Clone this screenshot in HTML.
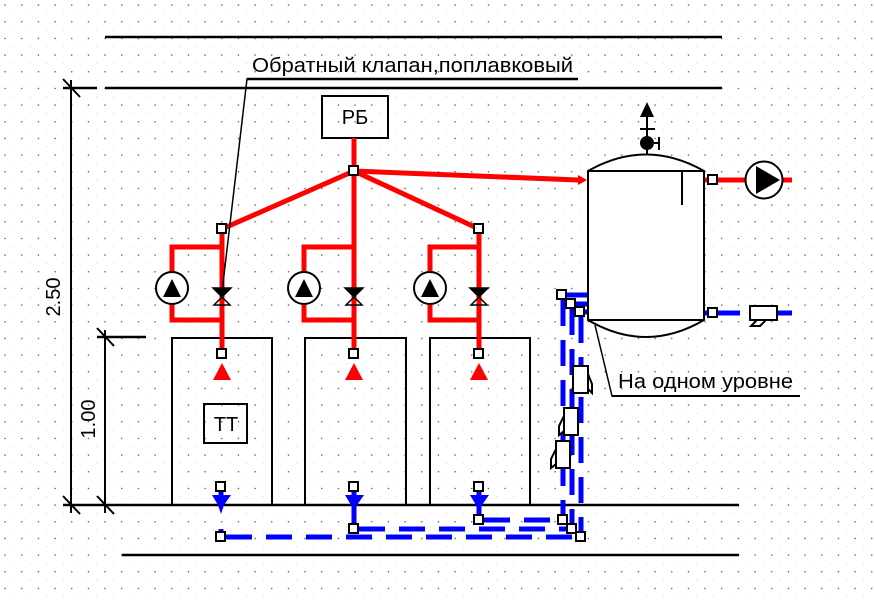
<!DOCTYPE html>
<html><head><meta charset="utf-8"><style>
html,body{margin:0;padding:0;background:#fff;}
svg{display:block;}
text{font-family:"Liberation Sans",Arial,sans-serif;fill:#000;}
</style></head><body>
<svg width="874" height="603" viewBox="0 0 874 603" xmlns="http://www.w3.org/2000/svg">
<defs>
<pattern id="g" x="4" y="4" width="16.6667" height="16.6667" patternUnits="userSpaceOnUse">
<rect x="0.5" y="0.5" width="1.2" height="1.2" fill="#333"/>
<rect x="8.8" y="8.8" width="1.2" height="1.2" fill="#ddd"/>
</pattern>
</defs>
<rect width="874" height="603" fill="#fff"/>
<rect width="874" height="603" fill="url(#g)"/>

<!-- frame lines -->
<g stroke="#000" stroke-width="2.5" fill="none">
<line x1="105" y1="37" x2="722" y2="37"/>
<line x1="63" y1="88" x2="97" y2="88"/>
<line x1="105" y1="88" x2="722" y2="88"/>
<line x1="63" y1="505" x2="739" y2="505"/>
<line x1="122" y1="555" x2="739" y2="555"/>
<line x1="97" y1="337" x2="146" y2="337"/>
</g>
<g stroke="#000" stroke-width="2" fill="none">
<line x1="71" y1="80" x2="71" y2="513"/>
<line x1="105" y1="330" x2="105" y2="513"/>
<line x1="63" y1="79" x2="80" y2="97"/>
<line x1="63" y1="496" x2="80" y2="514"/>
<line x1="97" y1="328" x2="114" y2="346"/>
<line x1="97" y1="496" x2="114" y2="514"/>
</g>
<text x="0" y="0" font-size="20" text-anchor="middle" transform="translate(60,297) rotate(-90)">2.50</text>
<text x="0" y="0" font-size="20" text-anchor="middle" transform="translate(95,419) rotate(-90)">1.00</text>

<!-- boilers -->
<g stroke="#000" stroke-width="2" fill="none">
<polyline points="172,505 172,338 272,338 272,505"/>
<polyline points="305,505 305,338 406,338 406,505"/>
<polyline points="430,505 430,338 530,338 530,505"/>
<rect x="204" y="404" width="43" height="39"/>
<rect x="322" y="96" width="66" height="42"/>
</g>
<text x="226" y="431" font-size="20" text-anchor="middle">ТТ</text>
<text x="355" y="124" font-size="20" text-anchor="middle">РБ</text>

<!-- red pipes -->
<g stroke="#f00" stroke-width="5" fill="none" stroke-linecap="butt">
<line x1="354" y1="138" x2="354" y2="354"/>
<line x1="354" y1="171" x2="222" y2="229"/>
<line x1="354" y1="171" x2="479" y2="229"/>
<line x1="354" y1="171" x2="578" y2="180"/>
<line x1="222" y1="229" x2="222" y2="354"/>
<line x1="479" y1="229" x2="479" y2="354"/>
<polyline points="222,247 172,247 172,272"/>
<polyline points="172,304 172,320 222,320"/>
<polyline points="354,247 304,247 304,272"/>
<polyline points="304,304 304,320 354,320"/>
<polyline points="479,247 430,247 430,272"/>
<polyline points="430,304 430,320 479,320"/>
<line x1="704" y1="180" x2="792" y2="180"/>
</g>
<polygon points="578,175 587,180 578,185" fill="#f00"/>
<g fill="#f00">
<polygon points="222,363 213,380 231,380"/>
<polygon points="354,363 345,380 363,380"/>
<polygon points="479,363 470,380 488,380"/>
</g>

<!-- pumps -->
<g stroke="#000" stroke-width="2" fill="#fff">
<circle cx="172" cy="288" r="16"/>
<circle cx="304" cy="288" r="16"/>
<circle cx="430" cy="288" r="16"/>
<circle cx="764" cy="180" r="18.5"/>
</g>
<g fill="#000">
<polygon points="172,279 163,297 181,297"/>
<polygon points="304,279 295,297 313,297"/>
<polygon points="430,279 421,297 439,297"/>
<polygon points="756,166 780,180 756,194"/>
</g>

<!-- valves -->
<g stroke="#000" stroke-width="1.5">
<polygon points="213,288 231,288 222,297" fill="#000"/>
<polygon points="222,297 214,305 230,305" fill="none"/>
<polygon points="345,288 363,288 354,297" fill="#000"/>
<polygon points="354,297 346,305 362,305" fill="none"/>
<polygon points="470,288 488,288 479,297" fill="#000"/>
<polygon points="479,297 471,305 487,305" fill="none"/>
</g>

<!-- blue pipes -->
<g stroke="#00f" stroke-width="5" fill="none">
<line x1="704" y1="313" x2="740" y2="313"/>
<line x1="777" y1="313" x2="792" y2="313"/>
<line x1="562" y1="295" x2="588" y2="295"/>
<line x1="571" y1="304" x2="588" y2="304"/>
<line x1="579" y1="312" x2="588" y2="312"/>
<line x1="221" y1="487" x2="221" y2="497"/>
<line x1="354" y1="487" x2="354" y2="529"/>
<line x1="479" y1="487" x2="479" y2="520"/>
<line x1="221" y1="529" x2="221" y2="537"/>
</g>
<g stroke="#00f" stroke-width="5" fill="none" stroke-dasharray="26 14">
<line x1="226" y1="537" x2="581" y2="537"/>
<line x1="359" y1="529" x2="572" y2="529"/>
<line x1="484" y1="520" x2="563" y2="520"/>
<line x1="563" y1="300" x2="563" y2="520"/>
<line x1="572" y1="309" x2="572" y2="529"/>
<line x1="581" y1="317" x2="581" y2="537"/>
</g>
<g fill="#00f">
<polygon points="212,495 231,495 224,505 221,514 218,505"/>
<polygon points="345,495 364,495 357,505 354,514 351,505"/>
<polygon points="470,495 489,495 482,505 479,514 476,505"/>
</g>

<!-- tank -->
<g stroke="#000" stroke-width="2" fill="#fff">
<path d="M588,171 Q646,138 704,171 L704,320 Q646,354 588,320 Z"/>
</g>
<g stroke="#000" stroke-width="2" fill="none">
<line x1="588" y1="171" x2="704" y2="171"/>
<line x1="588" y1="320" x2="704" y2="320"/>
<line x1="682" y1="171" x2="682" y2="205"/>
<line x1="647" y1="155" x2="647" y2="116"/>
<line x1="640" y1="129" x2="655" y2="129"/>
<line x1="647" y1="143" x2="659" y2="143"/>
<line x1="659" y1="137" x2="659" y2="150"/>
</g>
<circle cx="647" cy="143" r="7" fill="#000"/>
<polygon points="647,102 640,117 654,117" fill="#000"/>

<!-- devices -->
<g stroke="#000" stroke-width="2" fill="#fff">
<rect x="750" y="306" width="27" height="14"/>
<polygon points="757,320 766,320 760,326 751,326"/>
<rect x="573" y="366" width="15" height="27"/>
<polygon points="588,374 592,384 592,393 588,389"/>
<rect x="564" y="408" width="14" height="27"/>
<polygon points="564,416 559,426 559,435 564,431"/>
<rect x="556" y="441" width="14" height="27"/>
<polygon points="556,449 551,459 551,468 556,464"/>
</g>

<!-- squares -->
<g stroke="#000" stroke-width="2" fill="#fff">
<rect x="349" y="166" width="9" height="9"/>
<rect x="217" y="224" width="9" height="9"/>
<rect x="474" y="224" width="9" height="9"/>
<rect x="217" y="349" width="9" height="9"/>
<rect x="349" y="349" width="9" height="9"/>
<rect x="474" y="349" width="9" height="9"/>
<rect x="216" y="482" width="9" height="9"/>
<rect x="349" y="482" width="9" height="9"/>
<rect x="474" y="482" width="9" height="9"/>
<rect x="216" y="532" width="9" height="9"/>
<rect x="349" y="524" width="9" height="9"/>
<rect x="474" y="515" width="9" height="9"/>
<rect x="558" y="515" width="9" height="9"/>
<rect x="567" y="524" width="9" height="9"/>
<rect x="576" y="532" width="9" height="9"/>
<rect x="557" y="290" width="9" height="9"/>
<rect x="566" y="299" width="9" height="9"/>
<rect x="575" y="307" width="9" height="9"/>
<rect x="708" y="175" width="9" height="9"/>
<rect x="708" y="308" width="9" height="9"/>
</g>

<!-- annotations -->
<g stroke="#000" stroke-width="1.5" fill="none">
<polyline points="222,292 247,79 578,79"/>
<polyline points="595,325 612,396 800,396"/>
</g>
<line x1="247" y1="79" x2="578" y2="79" stroke="#000" stroke-width="2.5"/>
<line x1="612" y1="396" x2="800" y2="396" stroke="#000" stroke-width="2"/>
<text x="252" y="72" font-size="20" textLength="321" lengthAdjust="spacingAndGlyphs">Обратный клапан,поплавковый</text>
<text x="618" y="388" font-size="20" textLength="175" lengthAdjust="spacingAndGlyphs">На одном уровне</text>
</svg>
</body></html>
